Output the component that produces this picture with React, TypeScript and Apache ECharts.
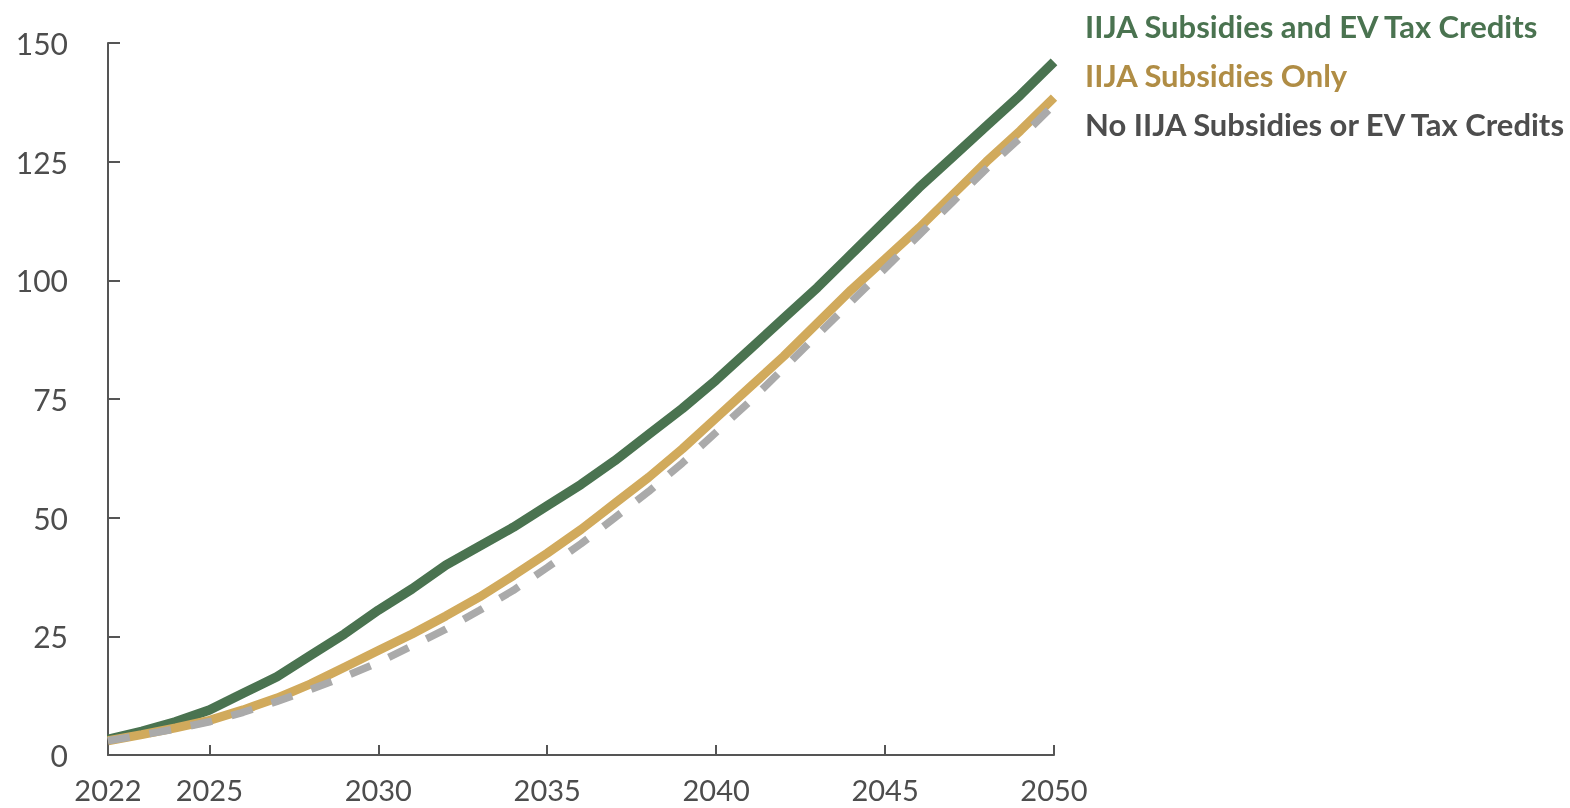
import React, { useEffect, useRef } from "react";
import * as echarts from "echarts";

const years = [
  "2022", "2023", "2024", "2025", "2026", "2027", "2028", "2029", "2030",
  "2031", "2032", "2033", "2034", "2035", "2036", "2037", "2038", "2039", "2040",
  "2041", "2042", "2043", "2044", "2045", "2046", "2047", "2048", "2049", "2050",
];
const shownYears = ["2022", "2025", "2030", "2035", "2040", "2045", "2050"];

const bothSeries = [
  3.3, 5, 7, 9.5, 13, 16.5, 21, 25.5, 30.5,
  35, 40, 44, 48, 52.5, 57, 62, 67.5, 73, 79,
  85.5, 92, 98.5, 105.5, 112.5, 119.5, 126, 132.5, 139, 146,
];
const subsidiesOnly = [
  3, 4.3, 5.7, 7.3, 9.5, 12, 15, 18.5, 22,
  25.5, 29.3, 33.3, 37.8, 42.5, 47.5, 53, 58.5, 64.5, 71,
  77.5, 84, 91, 98, 104.5, 111, 118, 125, 131.5, 138.5,
];
const noSubsidies = [
  3, 4.2, 5.5, 7, 9, 11.3, 13.8, 16.5, 19.5,
  23, 26.5, 30.5, 34.7, 39.5, 44.5, 50, 55.5, 61.5, 68,
  74.5, 81.5, 88.5, 95.5, 102.5, 109.5, 116.5, 123.5, 130, 137,
];

const names = [
  "IIJA Subsidies and EV Tax Credits",
  "IIJA Subsidies Only",
  "No IIJA Subsidies or EV Tax Credits",
];

const GREEN = "#4a7350";
const GOLD = "#d1aa5c";
const GOLD_TEXT = "#b08d45";
const GRAY = "#aaaaaa";
const AXIS = "#555555";
const TEXT = "#4d4d4d";
const FONT = "Lato";

export default function App() {
  const ref = useRef<HTMLDivElement>(null);
  useEffect(() => {
    if (!ref.current) return;
    const chart = echarts.init(ref.current, null, { renderer: "svg" });
    const showIdx = (i: number) => shownYears.includes(years[i]);
    chart.setOption({
      animation: false,
      grid: { left: 108, right: 516, top: 43, bottom: 53, containLabel: false },
      legend: {
        orient: "vertical",
        left: 1075,
        top: -4,
        icon: "none",
        itemWidth: 0,
        itemGap: 0,
        textStyle: { fontFamily: FONT, fontWeight: "bold", fontSize: 31, lineHeight: 49 },
        selectedMode: false,
        data: [
          { name: names[0], textStyle: { color: GREEN } },
          { name: names[1], textStyle: { color: GOLD_TEXT } },
          { name: names[2], textStyle: { color: TEXT } },
        ],
      },
      xAxis: {
        type: "category",
        data: years,
        boundaryGap: false,
        axisLine: { lineStyle: { color: AXIS, width: 2 } },
        axisTick: {
          inside: true,
          length: 10,
          interval: (i: number) => showIdx(i),
          lineStyle: { color: AXIS, width: 2 },
        },
        axisLabel: {
          interval: (i: number) => showIdx(i),
          color: TEXT,
          fontFamily: FONT,
          fontSize: 29,
          lineHeight: 26,
          margin: 21,
        },
        splitLine: { show: false },
      },
      yAxis: {
        type: "value",
        min: 0,
        max: 150,
        interval: 25,
        axisLine: { show: true, lineStyle: { color: AXIS, width: 2 } },
        axisTick: { show: true, inside: true, length: 12, lineStyle: { color: AXIS, width: 2 } },
        axisLabel: { color: TEXT, fontFamily: FONT, fontSize: 30, margin: 40 },
        splitLine: { show: false },
      },
      series: [
        {
          name: names[0],
          type: "line",
          data: bothSeries,
          symbol: "none",
          lineStyle: { color: GREEN, width: 9.5 },
          itemStyle: { color: GREEN },
          z: 2,
        },
        {
          name: names[1],
          type: "line",
          data: subsidiesOnly,
          symbol: "none",
          lineStyle: { color: GOLD, width: 9 },
          itemStyle: { color: GOLD },
          z: 3,
        },
        {
          name: names[2],
          type: "line",
          data: noSubsidies,
          symbol: "none",
          lineStyle: { color: GRAY, width: 7.5, type: [22, 20], cap: "butt" },
          itemStyle: { color: GRAY },
          z: 4,
        },
      ],
    });
    return () => chart.dispose();
  }, []);
  return (
    <div
      ref={ref}
      style={{ position: "fixed", left: 0, top: 0, width: 1570, height: 808 }}
    />
  );
}
